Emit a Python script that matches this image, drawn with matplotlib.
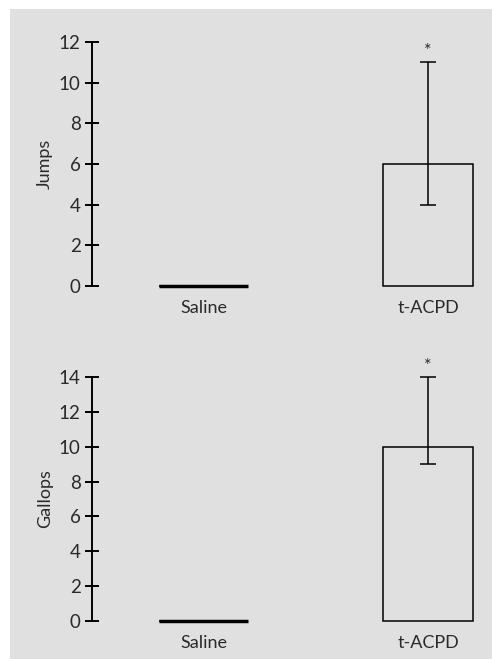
import matplotlib
matplotlib.use("Agg")
import matplotlib.pyplot as plt
from matplotlib.patches import Rectangle

plt.rcParams['font.family'] = ['Lato', 'DejaVu Sans']

groups = ["Saline", "t-ACPD"]
jumps = [0, 6]
jumps_lo = [0, 4]
jumps_hi = [0, 11]
gallops = [0, 10]
gallops_lo = [0, 9]
gallops_hi = [0, 14]
jumps_ticks = [0, 2, 4, 6, 8, 10, 12]
gallops_ticks = [0, 2, 4, 6, 8, 10, 12, 14]

W, H = 493, 659
fig = plt.figure(figsize=(W / 100, H / 100), dpi=100)
fig.patch.set_facecolor("white")
bg = Rectangle((10 / W, 0), (W - 11) / W, (H - 9) / H,
               transform=fig.transFigure, facecolor="#e0e0e0",
               edgecolor="none", zorder=-10)
fig.add_artist(bg)

txt = "#2a2a2a"
fw = "normal"


def panel(rect, vals, lo, hi, ticks, ylabel):
    ax = fig.add_axes(rect)
    ax.set_zorder(1)
    ax.set_facecolor("none")
    x = list(range(len(groups)))
    ax.bar(x, vals, width=0.40, facecolor="none", edgecolor="black",
           linewidth=1.1, clip_on=False)
    for xi, v in zip(x, vals):
        if v == 0:
            ax.plot([xi - 0.2, xi + 0.2], [0, 0], color="black", lw=2.5,
                    solid_capstyle="butt", clip_on=False)
    for xi, v, l, hh in zip(x, vals, lo, hi):
        if v > 0:
            ax.errorbar([xi], [v], yerr=[[v - l], [hh - v]], fmt="none", ecolor="black",
                        elinewidth=1.1, capsize=5.5, capthick=1.1, clip_on=False)
            ax.text(xi, hh + (ticks[-1] * 0.012), "*", ha="center", va="bottom",
                    fontsize=13, color=txt, fontweight=fw)
    ax.set_xlim(-0.497, 1.285)
    ax.set_ylim(0, ticks[-1])
    ax.set_yticks(ticks)
    ax.set_xticks(x)
    ax.set_xticklabels(groups, fontsize=13, color=txt, fontweight=fw)
    ax.tick_params(axis="x", length=0, pad=10)
    ax.tick_params(axis="y", direction="inout", length=9.5, width=1.4,
                   labelsize=13.5, labelcolor=txt, pad=3.5)
    for s in ["top", "right", "bottom"]:
        ax.spines[s].set_visible(False)
    ax.spines["left"].set_linewidth(1.4)
    ax.set_ylabel(ylabel, fontsize=13, color=txt, labelpad=4, fontweight=fw)
    return ax


left = 92 / W
width = (492 - 92) / W
h = 244 / H
panel([left, 1 - 286 / H, width, h], jumps, jumps_lo, jumps_hi, jumps_ticks, "Jumps")
panel([left, 1 - 621 / H, width, h], gallops, gallops_lo, gallops_hi, gallops_ticks, "Gallops")

fig.savefig("out.png", dpi=100, facecolor=fig.get_facecolor())
